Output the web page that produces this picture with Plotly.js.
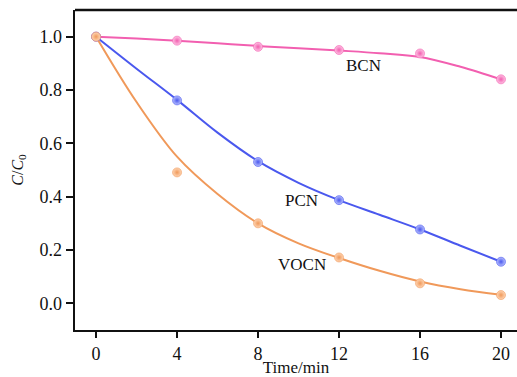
<!DOCTYPE html>
<html>
<head>
<meta charset="utf-8">
<script src="https://cdn.plot.ly/plotly-3.0.1.min.js"></script>
<style>
  html, body { margin: 0; padding: 0; background: #fff; }
  #chart { width: 517px; height: 377px; }
</style>
</head>
<body>
<div id="chart"></div>
<script>
// Measured C/C0 values
const time = [0, 4, 8, 12, 16, 20];
const bcn = [1.0, 0.985, 0.962, 0.950, 0.937, 0.840];
const pcn = [1.0, 0.761, 0.530, 0.387, 0.277, 0.156];
const vocn = [1.0, 0.491, 0.300, 0.172, 0.075, 0.031];

// Fitted kinetic curves, sampled every 2 min
const fitTime = [0, 2, 4, 6, 8, 10, 12, 14, 16, 18, 20];
const bcnFit = [1.0, 0.993, 0.985, 0.975, 0.965, 0.957, 0.948, 0.938, 0.924, 0.887, 0.840];
const pcnFit = [1.0, 0.880, 0.763, 0.640, 0.533, 0.452, 0.387, 0.332, 0.277, 0.216, 0.156];
const vocnFit = [1.0, 0.755, 0.550, 0.410, 0.300, 0.225, 0.170, 0.122, 0.082, 0.053, 0.032];

const xTicks = [0, 4, 8, 12, 16, 20];
const yTicks = [0.0, 0.2, 0.4, 0.6, 0.8, 1.0];

const colors = { BCN: '#f25fb0', PCN: '#4a58ee', VOCN: '#f0995a' };
const light = { BCN: '#ffc2e4', PCN: '#b8c0ff', VOCN: '#ffd6b5' };

function fitTrace(y, name) {
  return {
    x: fitTime, y: y, mode: 'lines', name: name + ' fit',
    line: { color: colors[name], width: 2, shape: 'spline', smoothing: 1.0 },
    hoverinfo: 'skip', showlegend: false
  };
}
function pointTrace(y, name) {
  return {
    x: time, y: y, mode: 'markers', name: name,
    marker: {
      size: 9, color: light[name],
      gradient: { type: 'radial', color: colors[name] },
      line: { width: 0.6, color: colors[name] }
    },
    showlegend: false
  };
}

const data = [
  fitTrace(bcnFit, 'BCN'), fitTrace(pcnFit, 'PCN'), fitTrace(vocnFit, 'VOCN'),
  pointTrace(bcn, 'BCN'), pointTrace(pcn, 'PCN'), pointTrace(vocn, 'VOCN')
];

const serif = 'Liberation Serif, Times New Roman, serif';

const layout = {
  width: 517, height: 377,
  margin: { l: 75, r: 0, t: 10, b: 47 },
  paper_bgcolor: '#fff', plot_bgcolor: '#fff',
  font: { family: serif, size: 17, color: '#111' },
  showlegend: false,
  xaxis: {
    range: [-1.04, 20.79],
    tickvals: xTicks, ticktext: xTicks.map(String),
    ticks: 'outside', ticklen: 6, tickwidth: 2, tickcolor: '#111',
    showline: true, linewidth: 2.4, linecolor: '#111',
    showgrid: false, zeroline: false,
    tickfont: { family: serif, size: 18, color: '#111' },
    title: { text: 'Time/min', font: { family: serif, size: 17, color: '#111' }, standoff: 1 }
  },
  yaxis: {
    range: [-0.1, 1.1],
    tickvals: yTicks, ticktext: yTicks.map(v => v.toFixed(1)),
    ticks: 'outside', ticklen: 7, tickwidth: 2, tickcolor: '#111',
    showline: true, linewidth: 2.4, linecolor: '#111',
    showgrid: false, zeroline: false,
    tickfont: { family: serif, size: 18, color: '#111' },
    title: { text: '<i>C</i>/<i>C</i><sub>0</sub>', font: { family: serif, size: 16, color: '#111' }, standoff: 12 }
  },
  shapes: [
    { type: 'line', xref: 'paper', yref: 'paper', x0: 0, x1: 1, y0: 1, y1: 1,
      line: { color: '#111', width: 2.4 } }
  ],
  annotations: [
    { x: 13.2, y: 0.893, text: 'BCN', showarrow: false, font: { family: serif, size: 17, color: '#111' } },
    { x: 10.16, y: 0.384, text: 'PCN', showarrow: false, font: { family: serif, size: 17, color: '#111' } },
    { x: 10.19, y: 0.147, text: 'VOCN', showarrow: false, font: { family: serif, size: 17, color: '#111' } }
  ]
};

Plotly.newPlot('chart', data, layout, { staticPlot: true, displayModeBar: false });
</script>
</body>
</html>
